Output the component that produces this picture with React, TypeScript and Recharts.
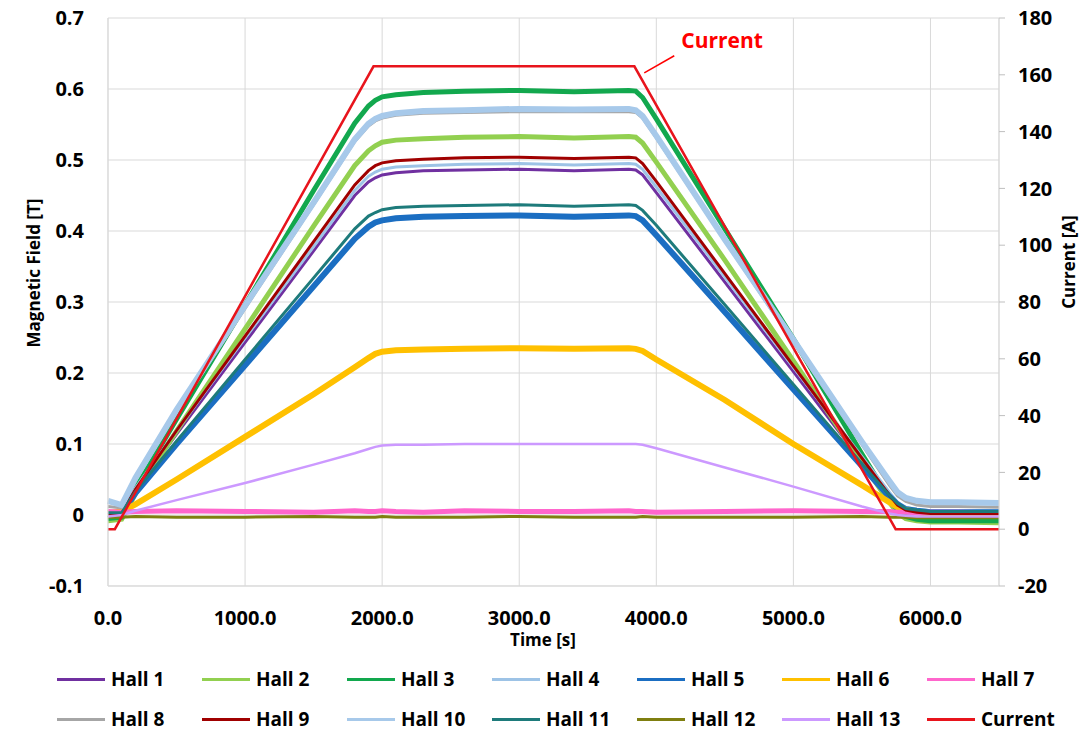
import { CartesianGrid, Legend, Line, LineChart, ReferenceDot, ReferenceLine, XAxis, YAxis } from "recharts"

// time axis shared by all hall probes [s]
const timeS = [0, 100, 200, 500, 1000, 1500, 1800, 1900, 1950, 2000, 2100, 2300, 2600, 3000, 3400, 3800, 3850, 3900, 4000, 4500, 5000, 5500, 5700, 5760, 5820, 5900, 6000, 6200, 6500]

// magnetic field readings [T]
const hall1 = [0.000, 0.001, 0.034, 0.114, 0.243, 0.372, 0.450, 0.469, 0.475, 0.479, 0.482, 0.485, 0.486, 0.487, 0.485, 0.487, 0.486, 0.479, 0.454, 0.328, 0.202, 0.075, 0.025, 0.012, 0.005, 0.002, 0.000, 0.000, -0.001]
const hall2 = [-0.008, -0.006, 0.030, 0.118, 0.262, 0.407, 0.492, 0.513, 0.520, 0.525, 0.528, 0.530, 0.532, 0.533, 0.531, 0.533, 0.532, 0.524, 0.497, 0.359, 0.217, 0.074, 0.018, 0.003, -0.005, -0.008, -0.010, -0.010, -0.011]
const hall3 = [-0.005, -0.003, 0.037, 0.135, 0.296, 0.457, 0.552, 0.576, 0.584, 0.589, 0.592, 0.595, 0.597, 0.598, 0.596, 0.598, 0.597, 0.588, 0.558, 0.403, 0.248, 0.086, 0.023, 0.007, -0.002, -0.006, -0.008, -0.008, -0.008]
const hall4 = [0.004, 0.004, 0.038, 0.119, 0.249, 0.378, 0.457, 0.477, 0.483, 0.487, 0.490, 0.492, 0.494, 0.495, 0.493, 0.495, 0.494, 0.487, 0.462, 0.335, 0.208, 0.082, 0.032, 0.018, 0.011, 0.008, 0.006, 0.006, 0.006]
const hall5 = [0.002, 0.002, 0.031, 0.100, 0.211, 0.322, 0.389, 0.406, 0.412, 0.415, 0.418, 0.420, 0.421, 0.422, 0.420, 0.422, 0.421, 0.415, 0.394, 0.286, 0.177, 0.069, 0.026, 0.015, 0.008, 0.006, 0.004, 0.004, 0.004]
const hall6 = [0.003, 0.005, 0.015, 0.050, 0.110, 0.170, 0.208, 0.221, 0.227, 0.230, 0.232, 0.233, 0.234, 0.235, 0.234, 0.235, 0.234, 0.231, 0.219, 0.162, 0.100, 0.042, 0.018, 0.011, 0.007, 0.004, 0.002, 0.002, 0.002]
const hall7 = [0.005, 0.004, 0.005, 0.006, 0.005, 0.004, 0.006, 0.005, 0.005, 0.006, 0.005, 0.004, 0.006, 0.005, 0.005, 0.006, 0.005, 0.005, 0.004, 0.005, 0.006, 0.005, 0.005, 0.004, 0.004, 0.003, 0.004, 0.004, 0.003]
const hall8 = [0.012, 0.010, 0.049, 0.145, 0.291, 0.437, 0.526, 0.548, 0.555, 0.559, 0.563, 0.566, 0.567, 0.568, 0.568, 0.568, 0.567, 0.559, 0.531, 0.386, 0.243, 0.099, 0.042, 0.027, 0.019, 0.014, 0.012, 0.012, 0.011]
const hall9 = [0.001, 0.002, 0.036, 0.119, 0.252, 0.385, 0.465, 0.485, 0.492, 0.496, 0.499, 0.501, 0.503, 0.504, 0.502, 0.504, 0.503, 0.495, 0.470, 0.340, 0.210, 0.080, 0.028, 0.014, 0.007, 0.004, 0.002, 0.002, 0.002]
const hall10 = [0.020, 0.014, 0.052, 0.148, 0.295, 0.440, 0.529, 0.551, 0.558, 0.562, 0.566, 0.569, 0.570, 0.572, 0.571, 0.572, 0.570, 0.562, 0.534, 0.388, 0.247, 0.103, 0.048, 0.032, 0.024, 0.020, 0.018, 0.018, 0.017]
const hall11 = [0.003, 0.003, 0.033, 0.104, 0.219, 0.334, 0.403, 0.421, 0.426, 0.430, 0.433, 0.435, 0.436, 0.437, 0.435, 0.437, 0.436, 0.429, 0.408, 0.296, 0.184, 0.072, 0.028, 0.016, 0.009, 0.007, 0.005, 0.005, 0.005]
const hall12 = [-0.003, -0.003, -0.002, -0.003, -0.003, -0.002, -0.003, -0.003, -0.003, -0.002, -0.003, -0.003, -0.003, -0.002, -0.003, -0.003, -0.003, -0.002, -0.003, -0.003, -0.003, -0.002, -0.003, -0.003, -0.003, -0.004, -0.004, -0.004, -0.004]
const hall13 = [-0.002, 0.000, 0.006, 0.021, 0.045, 0.071, 0.087, 0.093, 0.096, 0.098, 0.099, 0.099, 0.100, 0.100, 0.100, 0.100, 0.100, 0.099, 0.094, 0.067, 0.040, 0.012, 0.002, 0.000, -0.001, -0.002, -0.002, -0.002, -0.002]

// coil current [A]
const currentTimes = [0, 50, 1937, 3840, 5746, 6500]
const currentAmps = [0, 0, 163, 163, 0, 0]

const xTicks = [0, 1000, 2000, 3000, 4000, 5000, 6000]
const fieldTicks = [-0.1, 0, 0.1, 0.2, 0.3, 0.4, 0.5, 0.6, 0.7]
const ampTicks = [-20, 0, 20, 40, 60, 80, 100, 120, 140, 160, 180]

const hallValues = [hall1, hall2, hall3, hall4, hall5, hall6, hall7, hall8, hall9, hall10, hall11, hall12, hall13]

const series = [
  { key: "h1", name: "Hall 1", color: "#7030A0", width: 3 },
  { key: "h2", name: "Hall 2", color: "#92D050", width: 5 },
  { key: "h3", name: "Hall 3", color: "#12A84E", width: 5 },
  { key: "h4", name: "Hall 4", color: "#9DC3E6", width: 3 },
  { key: "h5", name: "Hall 5", color: "#1B6EC2", width: 6 },
  { key: "h6", name: "Hall 6", color: "#FFC000", width: 6 },
  { key: "h7", name: "Hall 7", color: "#FF66CC", width: 5 },
  { key: "h8", name: "Hall 8", color: "#A6A6A6", width: 3 },
  { key: "h9", name: "Hall 9", color: "#A00000", width: 3 },
  { key: "h10", name: "Hall 10", color: "#A7C9EA", width: 6 },
  { key: "h11", name: "Hall 11", color: "#1E7B7B", width: 3 },
  { key: "h12", name: "Hall 12", color: "#7F7F10", width: 3 },
  { key: "h13", name: "Hall 13", color: "#CC99FF", width: 2.5 },
]
const currentColor = "#E8141C"

const data = timeS.map((t, i) => {
  const row: any = { t }
  series.forEach((s, k) => {
    row[s.key] = hallValues[k][i]
  })
  return row
})

const currentData = currentTimes.map((t, i) => ({ t, amps: currentAmps[i] }))

const legendItems = [...series.map((s) => ({ name: s.name, color: s.color })), { name: "Current", color: currentColor }]

const font = "'Open Sans', 'Noto Sans', sans-serif"
const tickStyle = { fill: "#000", fontSize: 20, fontWeight: 700 }

function LegendBox() {
  return (
    <div style={{ position: "relative", width: 1087, height: 72, fontFamily: font }}>
      {legendItems.map((item, i) => (
        <div
          key={item.name}
          style={{
            position: "absolute",
            left: 57 + 145 * (i % 7),
            top: i < 7 ? 0 : 40,
            height: 30,
            display: "flex",
            alignItems: "center",
            whiteSpace: "nowrap",
          }}
        >
          <span style={{ display: "inline-block", width: 48, height: 3, background: item.color, marginRight: 6 }} />
          <span style={{ fontSize: 19, fontWeight: 700, color: "#000" }}>{item.name}</span>
        </div>
      ))}
    </div>
  )
}

export default function App() {
  return (
    <div style={{ position: "absolute", left: 0, top: 0, width: 1087, height: 732, background: "#fff", fontFamily: font }}>
      <LineChart width={1087} height={732} data={data} margin={{ top: 18, right: 0, bottom: 86, left: 0 }}>
        <CartesianGrid yAxisId="field" stroke="#D9D9D9" strokeWidth={1} />
        <XAxis
          type="number"
          dataKey="t"
          domain={[0, 6500]}
          ticks={xTicks}
          tickFormatter={(v) => v.toFixed(1)}
          height={60}
          tickLine={false}
          tickMargin={19}
          axisLine={{ stroke: "#D9D9D9" }}
          tick={tickStyle}
          label={{
            content: () => (
              <text x={543} y={646} textAnchor="middle" fontSize={17} fontWeight={700} fill="#000">
                Time [s]
              </text>
            ),
          }}
        />
        <YAxis
          yAxisId="field"
          type="number"
          domain={[-0.1, 0.7]}
          ticks={fieldTicks}
          tickFormatter={(v) => (v === 0 ? "0" : v.toFixed(1))}
          width={108}
          tickLine={false}
          tickMargin={18}
          axisLine={{ stroke: "#D9D9D9" }}
          tick={tickStyle}
          label={{
            content: () => (
              <text x={33} y={273} transform="rotate(-90 33 273)" textAnchor="middle" dominantBaseline="central" fontSize={17} fontWeight={700} fill="#000">
                Magnetic Field [T]
              </text>
            ),
          }}
        />
        <YAxis
          yAxisId="amps"
          orientation="right"
          type="number"
          domain={[-20, 180]}
          ticks={ampTicks}
          width={88}
          tickSize={6}
          tickMargin={13}
          tickLine={{ stroke: "#BFBFBF" }}
          axisLine={{ stroke: "#D9D9D9" }}
          tick={tickStyle}
          label={{
            content: () => (
              <text x={1068} y={262} transform="rotate(-90 1068 262)" textAnchor="middle" dominantBaseline="central" fontSize={17} fontWeight={700} fill="#000">
                Current [A]
              </text>
            ),
          }}
        />
        {series.map((s) => (
          <Line
            key={s.key}
            yAxisId="field"
            type="linear"
            dataKey={s.key}
            name={s.name}
            stroke={s.color}
            strokeWidth={s.width}
            dot={false}
            activeDot={false}
            isAnimationActive={false}
          />
        ))}
        <Line
          yAxisId="amps"
          data={currentData}
          type="linear"
          dataKey="amps"
          name="Current"
          stroke={currentColor}
          strokeWidth={2.5}
          dot={false}
          activeDot={false}
          isAnimationActive={false}
        />
        <ReferenceLine
          yAxisId="amps"
          segment={[
            { x: 3912, y: 160.7 },
            { x: 4131, y: 166.7 },
          ]}
          stroke="#FF0000"
          strokeWidth={1.5}
        />
        <ReferenceDot
          yAxisId="amps"
          x={4480}
          y={172.3}
          shape={(p: any) => (
            <text x={p.cx} y={p.cy} textAnchor="middle" dominantBaseline="central" fontSize={21} fontWeight={700} fill="#FF0000">
              Current
            </text>
          )}
        />
        <Legend
          layout="horizontal"
          verticalAlign="middle"
          align="center"
          wrapperStyle={{ position: "absolute", left: 0, top: 664, width: 1087, height: 72 }}
          content={() => <LegendBox />}
        />
      </LineChart>
    </div>
  )
}
